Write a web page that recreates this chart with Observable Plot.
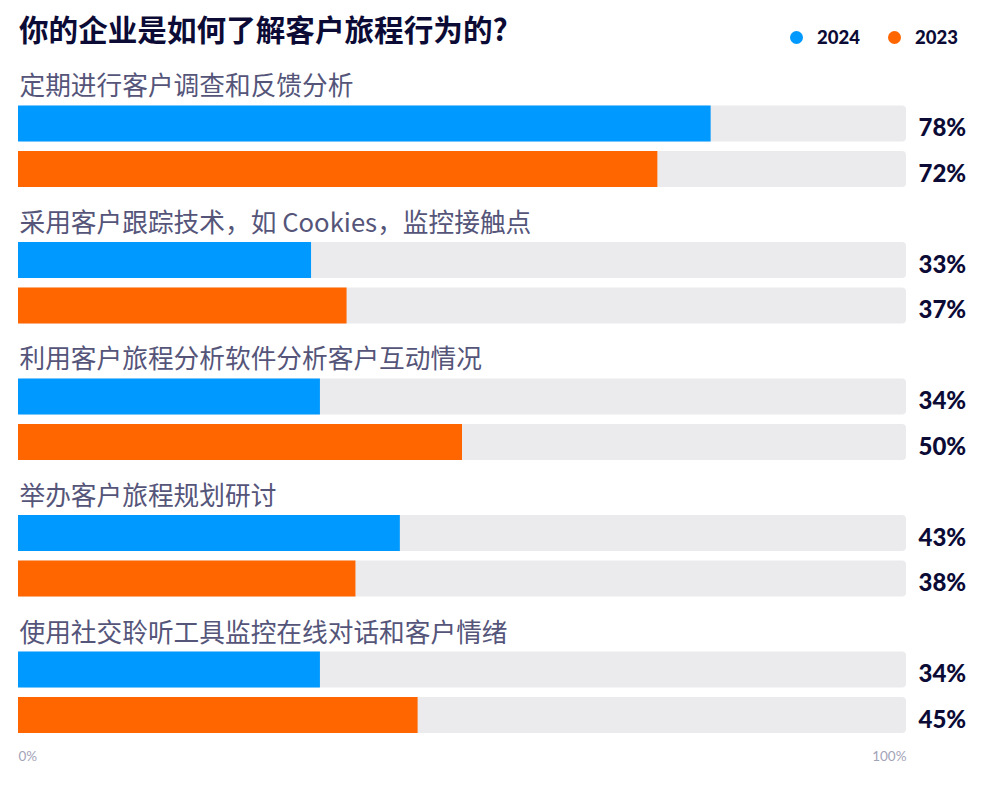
<!DOCTYPE html>
<html>
<head>
<meta charset="utf-8">
<script src="https://cdn.jsdelivr.net/npm/d3@7"></script>
<script src="https://cdn.jsdelivr.net/npm/@observablehq/plot@0.6"></script>
<style>
  html, body { margin: 0; padding: 0; background: #ffffff; }
  body { width: 1000px; height: 790px; overflow: hidden; font-family: "Noto Sans CJK SC", "Noto Sans", sans-serif; }
  #header { position: relative; height: 56px; }
  #title { position: absolute; left: 19px; top: 14px; font-size: 29.6px; line-height: 30px; font-weight: 700; color: #0c0b36; white-space: nowrap; }
  .legend-item { position: absolute; top: 26px; display: flex; align-items: center; font-family: Lato, "Noto Sans", sans-serif; font-weight: 900; font-size: 18.5px; line-height: 22px; color: #0c0b36; }
  .legend-dot { width: 13px; height: 13px; border-radius: 50%; margin-right: 14px; }
  #chart svg { display: block; }
</style>
</head>
<body>
<div id="header">
  <div id="title"></div>
  <div id="legend"></div>
</div>
<div id="chart"></div>
<script>
const title = "你的企业是如何了解客户旅程行为的?";
const categories = [
  "定期进行客户调查和反馈分析",
  "采用客户跟踪技术，如 Cookies，监控接触点",
  "利用客户旅程分析软件分析客户互动情况",
  "举办客户旅程规划研讨",
  "使用社交聆听工具监控在线对话和客户情绪"
];
const years = ["2024", "2023"];
const values2024 = [78, 33, 34, 43, 34];
const values2023 = [72, 37, 50, 38, 45];
const yearColors = ["#0099ff", "#ff6600"];
const axisTicks = [0, 100];

document.getElementById("title").textContent = title;

// legend
const legendLeft = [790, 888];
const legend = document.getElementById("legend");
years.forEach((yr, i) => {
  const item = document.createElement("div");
  item.className = "legend-item";
  item.style.left = legendLeft[i] + "px";
  const dot = document.createElement("span");
  dot.className = "legend-dot";
  dot.style.background = yearColors[i];
  const t = document.createElement("span");
  t.textContent = yr;
  item.appendChild(dot);
  item.appendChild(t);
  legend.appendChild(item);
});

const valuesByYear = {"2024": values2024, "2023": values2023};
const rows = categories.flatMap((c, i) => years.map(yr => ({
  category: c, year: yr, value: valuesByYear[yr][i], key: c + "|" + yr
})));
const yDomain = categories.flatMap(c => [c + "|label", ...years.map(yr => c + "|" + yr)]);

const chart = Plot.plot({
  width: 1000,
  height: 734,
  marginLeft: 18,
  marginRight: 94,
  marginTop: 4,
  marginBottom: 57,
  style: {background: "transparent", overflow: "visible"},
  x: {domain: [axisTicks[0], axisTicks[1]], axis: null},
  y: {domain: yDomain, axis: null, paddingInner: 0.209, paddingOuter: 0, round: false},
  color: {domain: years, range: yearColors},
  marks: [
    Plot.barX(rows, {x1: axisTicks[0], x2: axisTicks[1], y: "key", fill: "#ebebee", rx: 4}),
    Plot.barX(rows, {x1: axisTicks[0], x2: "value", y: "key", fill: "year"}),
    Plot.text(rows, {
      x: axisTicks[1], y: "key", text: d => d.value + "%",
      textAnchor: "start", dx: 12, dy: 4.5,
      fontSize: 24, fontWeight: 900, fontFamily: "Lato, 'Noto Sans', sans-serif", fill: "#0c0b36"
    }),
    Plot.text(categories, {
      x: axisTicks[0], y: d => d + "|label", text: d => d,
      textAnchor: "start", lineAnchor: "bottom", dx: 1, dy: 17,
      fontSize: 25.7, fontFamily: "'Noto Sans CJK SC', sans-serif", fill: "#55557a"
    }),
    Plot.text(axisTicks.slice(0, 1), {
      x: d => d, frameAnchor: "bottom", text: d => d + "%",
      textAnchor: "start", lineAnchor: "top", dy: 18,
      fontSize: 13.5, fontFamily: "Lato, 'Noto Sans', sans-serif", fill: "#a3a3b8"
    }),
    Plot.text(axisTicks.slice(1), {
      x: d => d, frameAnchor: "bottom", text: d => d + "%",
      textAnchor: "end", lineAnchor: "top", dy: 18,
      fontSize: 13.5, fontFamily: "Lato, 'Noto Sans', sans-serif", fill: "#a3a3b8"
    })
  ]
});
document.getElementById("chart").appendChild(chart);
</script>
</body>
</html>
